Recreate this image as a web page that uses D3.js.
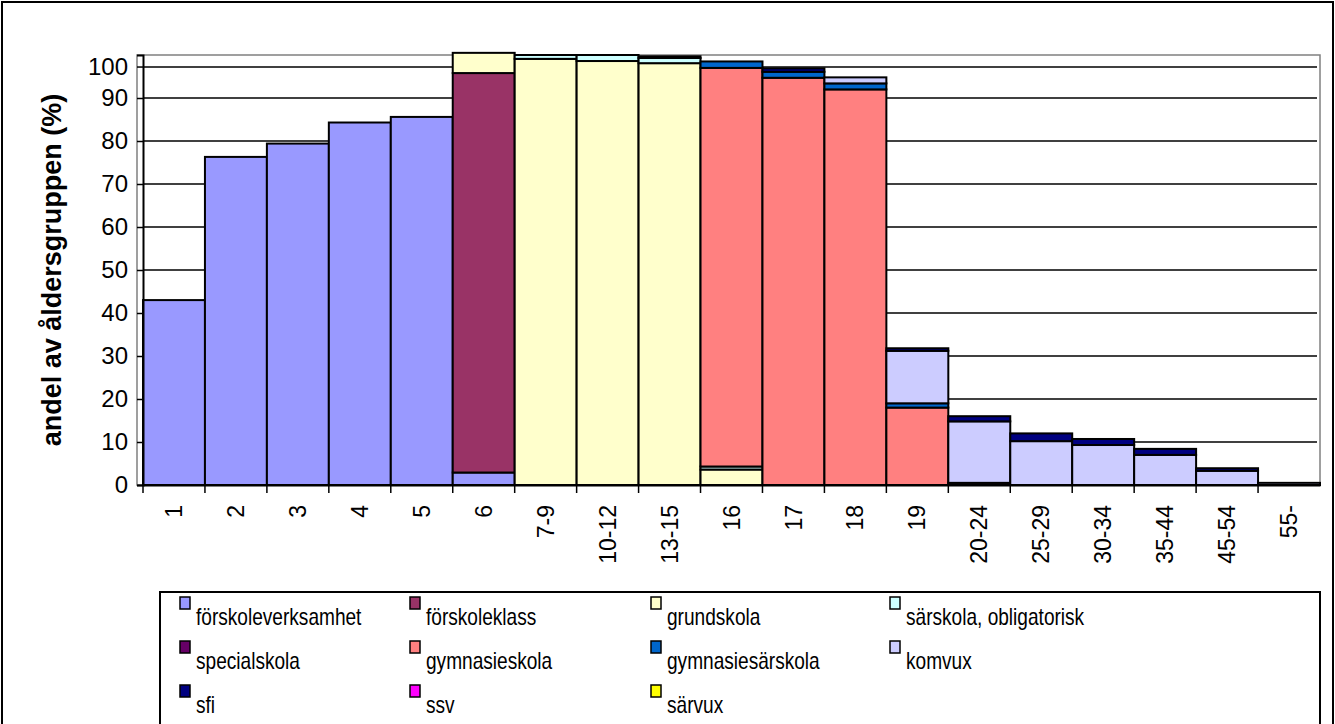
<!DOCTYPE html>
<html>
<head>
<meta charset="utf-8">
<script src="https://cdn.jsdelivr.net/npm/d3@7"></script>
<style>
  body { margin: 0; background: #fff; }
  svg { font-family: Arial, "Liberation Sans", sans-serif; }
</style>
</head>
<body>
<div id="chart"></div>
<script>
// categories (age groups)
var ages = ["1","2","3","4","5","6","7-9","10-12","13-15","16","17","18","19","20-24","25-29","30-34","35-44","45-54","55-"];

// share of age group (%) per school form, one value per age group
var forskoleverksamhet = [43.0, 76.3, 79.4, 84.3, 85.6, 2.9, 0, 0, 0, 0, 0, 0, 0, 0, 0, 0, 0, 0, 0];
var forskoleklass      = [0, 0, 0, 0, 0, 92.9, 0, 0, 0, 0, 0, 0, 0, 0, 0, 0, 0, 0, 0];
var grundskola         = [0, 0, 0, 0, 0, 4.7, 99.1, 98.6, 98.1, 3.6, 0, 0, 0, 0, 0, 0, 0, 0, 0];
var sarskola           = [0, 0, 0, 0, 0, 0, 0.9, 1.4, 1.2, 0.7, 0, 0, 0, 0, 0, 0, 0, 0, 0];
var specialskola       = [0, 0, 0, 0, 0, 0, 0, 0, 0.4, 0, 0, 0, 0, 0, 0, 0, 0, 0, 0];
var gymnasieskola      = [0, 0, 0, 0, 0, 0, 0, 0, 0, 92.7, 94.7, 92.0, 18.0, 0.5, 0, 0, 0, 0, 0];
var gymnasiesarskola   = [0, 0, 0, 0, 0, 0, 0, 0, 0, 1.5, 1.4, 1.4, 1.0, 0, 0, 0, 0, 0, 0];
var komvux             = [0, 0, 0, 0, 0, 0, 0, 0, 0, 0, 0, 1.4, 12.2, 14.3, 10.2, 9.3, 7.0, 3.3, 0.5];
var sfi                = [0, 0, 0, 0, 0, 0, 0, 0, 0, 0, 0.8, 0, 0.6, 1.2, 1.8, 1.4, 1.4, 0.6, 0];
var ssv                = [0, 0, 0, 0, 0, 0, 0, 0, 0, 0, 0, 0, 0, 0, 0, 0, 0, 0, 0];
var sarvux             = [0, 0, 0, 0, 0, 0, 0, 0, 0, 0, 0, 0, 0, 0, 0, 0, 0, 0, 0];

var seriesNames = ["förskoleverksamhet", "förskoleklass", "grundskola", "särskola, obligatorisk",
  "specialskola", "gymnasieskola", "gymnasiesärskola", "komvux", "sfi", "ssv", "särvux"];
var seriesValues = [forskoleverksamhet, forskoleklass, grundskola, sarskola, specialskola,
  gymnasieskola, gymnasiesarskola, komvux, sfi, ssv, sarvux];
var seriesColors = ["#9999FF", "#993366", "#FFFFCC", "#CCFFFF", "#660066", "#FF8080",
  "#0066CC", "#CCCCFF", "#000080", "#FF00FF", "#FFFF00"];

// y tick labels
var yTicks = [0, 10, 20, 30, 40, 50, 60, 70, 80, 90];

var W = 1335, H = 724;
var margin = { left: 143, right: 15, top: 55, bottom: 239 };
var width = W - margin.left - margin.right;
var height = H - margin.top - margin.bottom;
var fontFam = "Arial, 'Liberation Sans', sans-serif";

var svg = d3.select("#chart").append("svg")
  .attr("width", W)
  .attr("height", H);

// outer chart border
svg.append("rect")
  .attr("x", 2).attr("y", 2)
  .attr("width", W - 4).attr("height", H + 10)
  .attr("fill", "none")
  .attr("stroke", "#000")
  .attr("stroke-width", 2);

// build table for stacking
var table = ages.map(function(a, i) {
  var row = { age: a };
  seriesNames.forEach(function(n, j) { row[n] = seriesValues[j][i]; });
  return row;
});

var stack = d3.stack().keys(seriesNames)(table);

var x = d3.scaleBand().domain(ages).range([0, width]).padding(0);
var y = d3.scaleLinear().domain([0, 100]).range([height, 0]);

var g = svg.append("g")
  .attr("transform", "translate(" + margin.left + "," + margin.top + ")");

// plot area border (grey)
g.append("rect")
  .attr("x", -6).attr("y", 0)
  .attr("width", width + 6).attr("height", height)
  .attr("fill", "none")
  .attr("stroke", "#808080")
  .attr("stroke-width", 1.5);

// gridlines
g.selectAll(".grid")
  .data(yTicks.slice(1))
  .enter().append("line")
  .attr("x1", 0).attr("x2", width - 3)
  .attr("y1", function(d) { return y(d); })
  .attr("y2", function(d) { return y(d); })
  .attr("stroke", "#000")
  .attr("stroke-width", 1.5);

// the "100" line sits a bit below the plot top in the original
var topLineValue = 97.2;
g.append("line")
  .attr("x1", 0).attr("x2", width - 3)
  .attr("y1", y(topLineValue)).attr("y2", y(topLineValue))
  .attr("stroke", "#000")
  .attr("stroke-width", 1.5);

// bars
g.selectAll(".series")
  .data(stack)
  .enter().append("g")
  .attr("fill", function(d, i) { return seriesColors[i]; })
  .selectAll("rect")
  .data(function(d) { return d.filter(function(s) { return s[1] - s[0] > 0; }); })
  .enter().append("rect")
  .attr("x", function(d) { return x(d.data.age); })
  .attr("y", function(d) { return y(d[1]); })
  .attr("width", x.bandwidth())
  .attr("height", function(d) { return y(d[0]) - y(d[1]); })
  .attr("stroke", "#000")
  .attr("stroke-width", 2);

// y axis
var yAxis = g.append("g")
  .call(d3.axisLeft(y).tickValues(yTicks).tickSize(6).tickPadding(9).tickFormat(d3.format("d")));
yAxis.append("line")
  .attr("x1", -6).attr("x2", 0)
  .attr("y1", y(topLineValue)).attr("y2", y(topLineValue))
  .attr("stroke", "#000");
yAxis.append("text")
  .attr("x", -15).attr("y", y(topLineValue))
  .attr("dy", "0.32em")
  .attr("text-anchor", "end")
  .attr("fill", "#000")
  .text("100");
yAxis.select(".domain").attr("stroke-width", 2);
yAxis.selectAll("line").attr("stroke-width", 1.5);
yAxis.selectAll("text").attr("font-size", "24px").attr("font-family", fontFam);

// x axis
var xAxis = g.append("g")
  .attr("transform", "translate(0," + height + ")")
  .call(d3.axisBottom(x).tickSize(8).tickSizeOuter(0));
xAxis.select(".domain").attr("stroke-width", 2);
xAxis.selectAll(".tick line")
  .attr("stroke-width", 1.5)
  .attr("transform", "translate(" + (-x.bandwidth() / 2) + ",0)");
xAxis.selectAll(".tick text")
  .attr("font-size", "23px")
  .attr("font-family", fontFam)
  .attr("text-anchor", "end")
  .attr("dy", "0.35em")
  .attr("transform", "translate(0,20) rotate(-90)")
  .attr("x", 0).attr("y", 0);

// y axis title
svg.append("text")
  .attr("transform", "translate(61,270) rotate(-90)")
  .attr("text-anchor", "middle")
  .attr("font-size", "27px")
  .attr("font-weight", "bold")
  .text("andel av åldersgruppen (%)");

// legend
var legend = svg.append("g").attr("transform", "translate(160,592)");
legend.append("rect")
  .attr("x", 0).attr("y", 0)
  .attr("width", 1160).attr("height", 200)
  .attr("fill", "#fff")
  .attr("stroke", "#000")
  .attr("stroke-width", 2);

var colX = [20, 250, 491, 730];
var item = legend.selectAll(".item")
  .data(seriesNames)
  .enter().append("g")
  .attr("transform", function(d, i) {
    return "translate(" + colX[i % 4] + "," + (5 + Math.floor(i / 4) * 44) + ")";
  });
item.append("rect")
  .attr("x", 0).attr("y", 0)
  .attr("width", 10).attr("height", 12)
  .attr("fill", function(d, i) { return seriesColors[i]; })
  .attr("stroke", "#000")
  .attr("stroke-width", 1.5);
item.append("text")
  .attr("transform", "translate(16,28) scale(0.83,1)")
  .attr("font-size", "23px")
  .text(function(d) { return d; });
</script>
</body>
</html>
